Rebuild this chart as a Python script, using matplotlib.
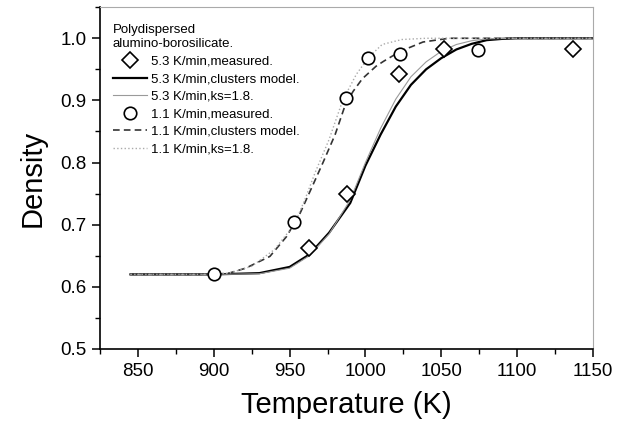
import matplotlib
matplotlib.use("Agg")
import matplotlib.pyplot as plt
from matplotlib.ticker import MultipleLocator, FormatStrFormatter

plt.rcParams['font.family'] = ['Liberation Sans', 'DejaVu Sans']

# measured points
t_53 = [963, 988, 1022, 1052, 1137]
d_53 = [0.663, 0.750, 0.942, 0.983, 0.982]
t_11 = [900, 953, 987, 1002, 1023, 1074]
d_11 = [0.620, 0.704, 0.904, 0.969, 0.975, 0.981]

# model curves
t_53_cl = [845, 900, 930, 950, 963, 976, 990, 1000, 1010, 1020, 1030, 1040,
           1050, 1060, 1070, 1080, 1090, 1100, 1150]
d_53_cl = [0.620, 0.620, 0.622, 0.632, 0.652, 0.687, 0.735, 0.795, 0.845,
           0.890, 0.925, 0.950, 0.968, 0.982, 0.991, 0.997, 0.999, 1.0, 1.0]
t_53_ks = [845, 900, 930, 950, 963, 976, 990, 1000, 1010, 1020, 1030, 1040,
           1050, 1060, 1070, 1080, 1100, 1150]
d_53_ks = [0.620, 0.620, 0.621, 0.630, 0.650, 0.685, 0.740, 0.800, 0.855,
           0.902, 0.938, 0.962, 0.979, 0.990, 0.996, 0.999, 1.0, 1.0]
t_11_cl = [845, 900, 910, 921, 937, 948, 957, 965, 972, 980, 987, 992, 998,
           1007, 1012, 1023, 1038, 1055, 1150]
d_11_cl = [0.620, 0.620, 0.622, 0.630, 0.649, 0.681, 0.719, 0.762, 0.800,
           0.845, 0.895, 0.915, 0.935, 0.955, 0.963, 0.979, 0.994, 1.0, 1.0]
t_11_ks = [845, 900, 910, 925, 940, 953, 960, 967, 976, 985, 994, 1002,
           1011, 1024, 1040, 1150]
d_11_ks = [0.620, 0.620, 0.622, 0.633, 0.660, 0.700, 0.740, 0.785, 0.837,
           0.900, 0.942, 0.969, 0.990, 0.998, 1.0, 1.0]

fig = plt.figure(figsize=(6.26, 4.24), dpi=100)
ax = fig.add_axes([0.160, 0.177, 0.787, 0.806])

ax.plot(t_53, d_53, 'D', ms=8.5, mfc='white', mec='black', mew=1.2,
        label='5.3 K/min,measured.', zorder=5)
ax.plot(t_53_cl, d_53_cl, '-', color='black', lw=1.6,
        label='5.3 K/min,clusters model.')
ax.plot(t_53_ks, d_53_ks, '-', color='#9a9a9a', lw=0.8,
        label='5.3 K/min,ks=1.8.')
ax.plot(t_11, d_11, 'o', ms=9, mfc='white', mec='black', mew=1.2,
        label='1.1 K/min,measured.', zorder=5)
ax.plot(t_11_cl, d_11_cl, '--', color='#333333', lw=1.2, dashes=(4, 2.5),
        label='1.1 K/min,clusters model.')
ax.plot(t_11_ks, d_11_ks, ':', color='#aaaaaa', lw=1.0,
        label='1.1 K/min,ks=1.8.')

ax.set_xlim(825, 1150)
ax.set_ylim(0.5, 1.05)
ax.xaxis.set_major_locator(MultipleLocator(50))
ax.xaxis.set_minor_locator(MultipleLocator(25))
ax.yaxis.set_major_locator(MultipleLocator(0.1))
ax.yaxis.set_minor_locator(MultipleLocator(0.05))
ax.yaxis.set_major_formatter(FormatStrFormatter('%.1f'))

ax.tick_params(which='major', direction='out', length=6, width=1.1,
               labelsize=13.5, pad=4)
ax.tick_params(which='minor', direction='out', length=3.5, width=1.0)
ax.tick_params(top=False, right=False)

ax.spines['left'].set_linewidth(1.2)
ax.spines['bottom'].set_linewidth(1.2)
ax.spines['top'].set_color('#aaaaaa')
ax.spines['right'].set_color('#aaaaaa')
ax.spines['top'].set_linewidth(0.8)
ax.spines['right'].set_linewidth(0.8)

ax.set_xlabel('Temperature (K)', fontsize=21, labelpad=8)
ax.set_ylabel('Density', fontsize=21, labelpad=10)

leg = ax.legend(loc='upper left', bbox_to_anchor=(0.026, 0.95),
                title='Polydispersed\nalumino-borosilicate.',
                frameon=False, fontsize=9.5, title_fontsize=9.5,
                handlelength=2.6, handletextpad=0.3, labelspacing=0.4,
                borderaxespad=0, borderpad=0, alignment='left')

fig.savefig('out.png', dpi=100)
